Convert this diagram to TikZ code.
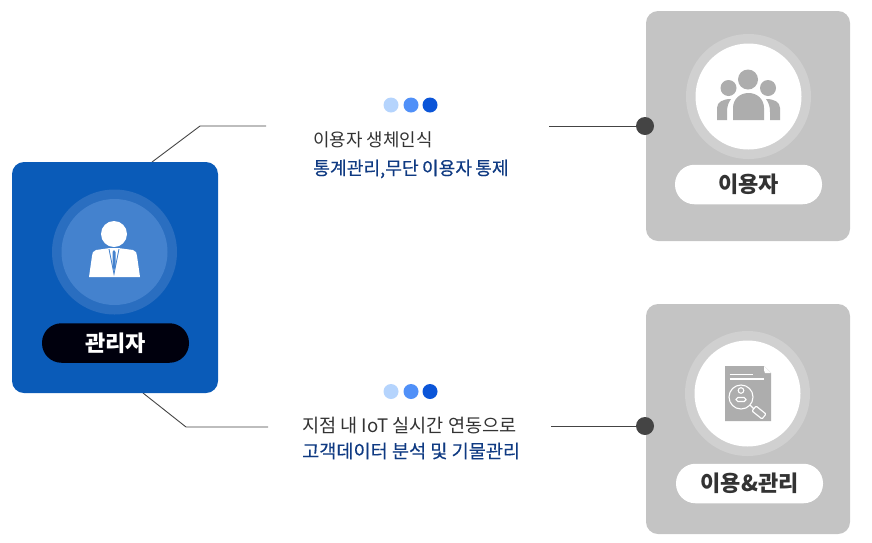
\documentclass[tikz,border=0pt]{standalone}
\usepackage{fontspec}
\setmainfont{Noto Sans CJK KR}
\newfontfamily\kr{Noto Sans CJK KR}
\newfontfamily\krm[FakeBold=0.25]{Noto Sans CJK KR}
\definecolor{blueBox}{HTML}{0A5BB8}
\definecolor{blueRing}{HTML}{2A6EC0}
\definecolor{blueIn}{HTML}{4482CE}
\definecolor{grayBox}{HTML}{C4C4C4}
\definecolor{grayRing}{HTML}{D0D0D0}
\definecolor{iconGray}{HTML}{ADADAD}
\definecolor{dotA}{HTML}{B5D4FD}
\definecolor{dotB}{HTML}{5090F8}
\definecolor{dotC}{HTML}{0B55D8}
\definecolor{navy}{HTML}{0F3A82}
\definecolor{ink}{HTML}{333333}
\definecolor{lineC}{HTML}{444444}
\tikzset{
  x=1pt,y=-1pt,
  card/.style={rounded corners=12pt,minimum height=230pt,minimum width=205pt,inner sep=0pt,fill=#1},
  pill/.style={rounded corners=19.5pt,minimum width=147pt,minimum height=39.5pt,inner sep=0pt,fill=#1,font=\bfseries\fontsize{22}{26}\selectfont},
  disc/.style={circle,inner sep=0pt,minimum size=#1},
  dot/.style={circle,inner sep=0pt,minimum size=15pt,fill=#1},
  endd/.style={circle,inner sep=0pt,minimum size=18pt,fill=lineC},
  conn/.style={draw=lineC,line width=0.9pt},
  plain/.style={anchor=west,inner sep=0pt,text=ink,font=\kr\fontsize{18.6}{22}\selectfont},
  strong/.style={anchor=west,inner sep=0pt,text=navy,font=\krm\fontsize{18.6}{22}\selectfont},
}
\begin{document}
\begin{tikzpicture}
\useasboundingbox (0,0) rectangle (872,542);
% connectors
\coordinate (tl0) at (152,162);
\coordinate (tl1) at (200,126);
\coordinate (tl2) at (266,126);
\coordinate (bl0) at (143,393);
\coordinate (bl1) at (186,427);
\coordinate (bl2) at (268,427);
\coordinate (tr0) at (549,126);
\coordinate (br0) at (551,426);
\draw[conn] (tl0) -- (tl1) -- (tl2);
\draw[conn] (bl0) -- (bl1) -- (bl2);
% cards
\node[card=blueBox,minimum width=206pt,minimum height=231pt] (admin) at (115,277.5) {};
\node[card=grayBox,minimum width=204pt] (user) at (748,126) {};
\node[card=grayBox,minimum width=204pt] (mgr) at (748,419) {};
% end dots
\node[endd] (d1) at (645,126) {};
\node[endd] (d2) at (645,426) {};
\draw[conn] (tr0) -- (d1);
\draw[conn] (br0) -- (d2);
% admin disc & icon
\node[disc=125pt,fill=blueRing] (a1) at (114.5,252) {};
\node[disc=106pt,fill=blueIn] (a2) at (114.5,252) {};
\fill[white] (114,234) circle (13);
\fill[white] (96,250) -- (110,248) -- (118,248) -- (133,250) .. controls (136,251) and (137,253) .. (137,256) -- (140,277) -- (89,277) -- (92,256) .. controls (92,253) and (93,251) .. (96,250) -- cycle;
\draw[blueIn,line width=0.8pt] (109,249) -- (114,274) -- (119,249);
\fill[blueIn] (114,250) -- (115.5,252) -- (115.5,266) -- (114,271) -- (112.5,266) -- (112.5,252) -- cycle;
\node[pill=black!95!blue,text=white] (alabel) at (115.5,343) {\raisebox{-1pt}{관리자}};
% user disc & icon
\node[disc=125pt,fill=grayRing] (u1) at (748.5,96.5) {};
\node[disc=106pt,fill=white] (u2) at (748.5,96.5) {};
\fill[iconGray] (748,79.5) circle (10);
\fill[iconGray] (728.5,88) circle (8);
\fill[iconGray] (768,88) circle (8);
\fill[iconGray] (717,120) -- (717,108) .. controls (717,102) and (723,99) .. (731,99) .. controls (728,103) and (727,107) .. (727,112) -- (727,120) -- cycle;
\fill[iconGray] (780,120) -- (780,108) .. controls (780,102) and (774,99) .. (766,99) .. controls (769,103) and (770,107) .. (770,112) -- (770,120) -- cycle;
\fill[iconGray] (733,120) -- (733,108) .. controls (733,99) and (740,93) .. (748.5,93) .. controls (757,93) and (764,99) .. (764,108) -- (764,120) -- cycle;
\node[pill=white,text=ink] (ulabel) at (748.5,184.5) {\raisebox{-1pt}{이용자}};
% mgr disc & icon
\node[disc=125pt,fill=grayRing] (m1) at (747.5,393.5) {};
\node[disc=106pt,fill=white] (m2) at (747.5,393.5) {};
\fill[iconGray] (725,366) -- (764,366) -- (771,373) -- (771,421) -- (725,421) -- cycle;
\draw[white,line width=1.1pt] (729.5,374.5) -- (753,374.5);
\draw[white,line width=1.1pt] (729.5,379) -- (764,379);
\draw[white,line width=1.1pt] (741,397) circle (12);
\draw[white,line width=1.1pt] (741,390.5) circle (2.8);
\draw[white,line width=1.1pt,rounded corners=1.8pt] (736,397.5) rectangle (746,401.5);
\draw[white,line width=1.1pt] (750,405) -- (754,409);
\draw[white,line width=1.1pt,rounded corners=1pt] (756,406) -- (766,414) -- (762,419) -- (752,411) -- cycle;
\fill[white] (764,366) -- (771,373) -- (765,373) .. controls (764,372) and (764,370) .. (764,366) -- cycle;
\node[pill=white,text=ink] (mlabel) at (749.5,483.5) {\raisebox{-1pt}{이용\&관리}};
% dots
\node[dot=dotA] (a) at (391,105) {};
\node[dot=dotB] (b) at (411,105) {};
\node[dot=dotC] (c) at (430,105) {};
\node[dot=dotA] (e) at (391,391.5) {};
\node[dot=dotB] (f) at (411,391.5) {};
\node[dot=dotC] (g) at (430,391.5) {};
% text
\node[plain,font=\kr\fontsize{17.9}{22}\selectfont] (t1) at (313,140) {이용자 생체인식};
\node[strong,font=\krm\fontsize{18.2}{22}\selectfont] (t2) at (313,169) {통계관리,\hspace{-4pt} 무단\hspace{-1pt} 이용자\hspace{-1pt} 통제};
\node[plain] (t3) at (302,426) {지점 내 IoT 실시간 연동으로};
\node[strong] (t4) at (302,451) {고객데이터 분석 및 기물관리};
\end{tikzpicture}
\end{document}
